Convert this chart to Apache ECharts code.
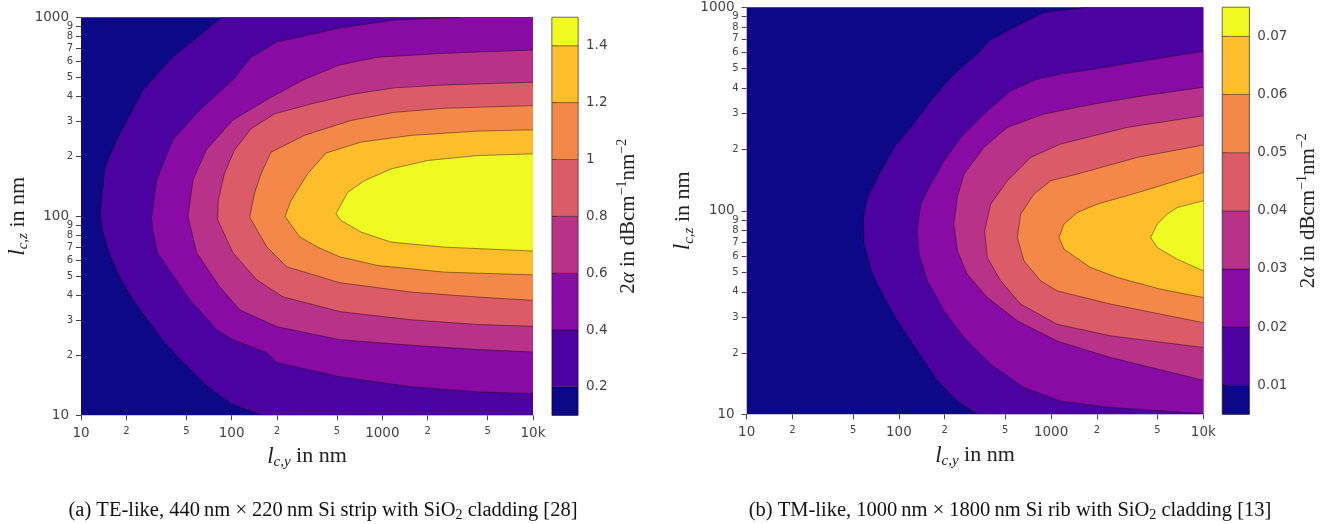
<!DOCTYPE html>
<html>
<head>
<meta charset="utf-8">
<script src="https://cdn.jsdelivr.net/npm/echarts@6/dist/echarts.min.js"></script>
<style>
html,body{margin:0;padding:0;background:#fff}
#chart{width:1332px;height:524px}
</style>
</head>
<body>
<div id="chart"></div>
<script>
// band colours, lowest to highest (both panels)
const bandColors = ['#0d0887', '#4c02a1', '#8a0aa5', '#b83289', '#db5c68', '#f48849', '#febd2a', '#f0f921'];

// log axis ticks in nm
const xTicks = [10, 20, 50, 100, 200, 500, 1000, 2000, 5000, 10000];
const yMajor = [10, 100, 1000];
// minor y ticks split in two sets so neighbouring small labels never collide
const yMinorEven = [20, 40, 60, 80, 200, 400, 600, 800];
const yMinorOdd = [30, 50, 70, 90, 300, 500, 700, 900];
const X_MIN = 10, X_MAX = 10000, Z_MIN = 10, Z_MAX = 1000;

// (a) colourbar levels and ticks
const levelsA = [0.1, 0.2, 0.4, 0.6, 0.8, 1.0, 1.2, 1.4, 1.5];
const cbTicksA = [0.2, 0.4, 0.6, 0.8, 1, 1.2, 1.4];
// (a) contour lines, points [l_cy, l_cz] in nm
const a02 = [[85.8,1000],[40.6,632],[25.7,431],[17.2,242],[14.4,177],[13.7,125],[13.4,101],[13.9,84.9],[15.4,64.8],[18.0,49.5],[21.5,39.3],[27.7,30.0],[35.7,23.3],[46.1,18.9],[65.9,14.4],[99,11.4],[156.6,10]];
const a04 = [[3327,1000],[1201,970],[521,884],[199,752],[134.4,630],[101.5,484],[61.3,342],[40.6,242],[31.8,152.6],[29.4,99.4],[29.9,84.9],[32.3,64.8],[41.6,49.5],[52.6,38.1],[79.5,26.9],[101.5,24.0],[170.8,20.6],[199,18.4],[521,15.6],[1550,13.9],[4294,13.1],[10000,12.85]];
const a06 = [[10000,685],[2579,659],[931,630],[521,576],[297.5,484],[182.4,396],[102,305],[67.9,215.8],[55.4,152.6],[51.3,99.8],[58.6,65.6],[83.2,44.3],[113,33.9],[199,27.9],[521,24.0],[1550,22.5],[4294,21.4],[10000,20.8]];
const a08 = [[10000,472],[2579,457],[1201,442],[652,412],[336,367],[192,327],[134.4,275],[104,214],[89.4,163.5],[81.5,120],[80.8,96.0],[102,65.6],[146.5,48.0],[219,39.4],[521,33.2],[1550,30.2],[4294,28.6],[10000,28.0]];
const a10 = [[10000,360],[2579,349],[1201,333],[619,303],[303.6,255],[182.4,210],[156.6,163.5],[141.4,129.7],[131.7,99],[170.8,70.3],[231.7,55.8],[521,46.4],[1550,41.6],[4294,39.3],[10000,37.8]];
const a12 = [[10000,272],[4294,268],[1550,255],[722,236],[423,208],[319,163.5],[247.6,120],[226,99.8],[282.8,78.9],[372,70.0],[521,62.6],[931,56.6],[2579,52.4],[10000,50.8]];
const a14 = [[10000,206],[4294,202],[2000,190.7],[1141,173],[760,151],[589,132],[493,103],[532,95.3],[722,83.3],[1141,74.2],[2579,70.0],[10000,66.9]];

// (b) colourbar levels and ticks
const levelsB = [0.005, 0.01, 0.02, 0.03, 0.04, 0.05, 0.06, 0.07, 0.075];
const cbTicksB = [0.01, 0.02, 0.03, 0.04, 0.05, 0.06, 0.07];
// (b) contour lines
const b01 = [[1729,1000],[898,945],[516,768],[396.7,691],[327.5,590],[230,470],[161.7,347.5],[119.5,257],[92.9,205],[72.2,145.8],[62.0,116.3],[58.4,92.7],[59.0,68.6],[66.9,48.8],[79.8,37.5],[97.6,28.8],[132.1,20.5],[178.8,14.6],[242,11.6],[327.5,10]];
const b02 = [[10000,607.6],[4074,546.8],[1644,488],[1215,473.6],[811,444],[542,389],[362,298.8],[254.5,229.5],[197.8,176.2],[161.7,135.2],[139,107.8],[132.1,79.8],[135.5,61.2],[153.8,45.3],[197.8,32.2],[267.7,23.8],[400.8,17.6],[663,13.5],[1155,11.6],[2461,10.8],[10000,10.08]];
const b03 = [[10000,404.4],[4074,367.9],[1912,334.6],[898,298.8],[516,257],[362,205],[267.7,151.5],[242,116.3],[230,86],[242,63.6],[281.6,48.8],[381,37.5],[600,28.8],[1098,22.9],[2461,19.0],[10000,14.7]];
const b04 = [[10000,293.2],[3166,257],[1155,212.8],[734,183],[516,140.4],[400.8,107.8],[366,79.8],[381,58.9],[466,45.3],[631,34.8],[1098,27.7],[2461,24.3],[10000,21.3]];
const b05 = [[10000,210.4],[3683,183],[1486,151.5],[993,140.4],[772,120.8],[631,96.3],[600,73.9],[663,56.8],[854,45.3],[1098,40.4],[2461,34.8],[10000,28.2]];
const b06 = [[10000,154.3],[4074,125.4],[2012,107.8],[1486,98.1],[1215,86],[1126,73.9],[1215,64.8],[1818,52.6],[2721,47],[5243,41.2],[10000,37.5]];
const b07 = [[10000,112],[6745,103.8],[5799,96.3],[4984,86],[4506,73.9],[4984,66],[6745,57.8],[10000,50.7]];

const contoursA = [a02, a04, a06, a08, a10, a12, a14];
const contoursB = [b01, b02, b03, b04, b05, b06, b07];

const tickColor = '#444';
const serif = 'Liberation Serif';
const sans = 'DejaVu Sans';

// one filled region + its contour line, drawn once per series
function contourSeries(pts, color, idx) {
  return {
    type: 'custom', xAxisIndex: idx, yAxisIndex: idx, data: pts, silent: true, clip: true,
    renderItem(params, api) {
      if (params.dataIndex !== 0) return null;
      const line = pts.map(p => api.coord(p));
      const first = pts[0], last = pts[pts.length - 1];
      const close = [];
      if (last[1] === Z_MIN) close.push([X_MAX, Z_MIN]);
      if (first[1] === Z_MAX) close.push([X_MAX, Z_MAX]);
      const poly = line.concat(close.map(p => api.coord(p)));
      return {
        type: 'group',
        children: [
          { type: 'polygon', shape: { points: poly }, style: { fill: color } },
          { type: 'polyline', shape: { points: line }, style: { stroke: 'rgba(0,0,0,0.7)', lineWidth: 0.6, fill: null } }
        ]
      };
    }
  };
}

function colorbarSeries(levels, idx) {
  const bands = levels.slice(0, -1).map((lo, i) => [0, lo, levels[i + 1]]);
  return {
    type: 'custom', xAxisIndex: idx, yAxisIndex: idx, data: bands, silent: true,
    encode: { x: 0, y: [1, 2] },
    renderItem(params, api) {
      const a = api.coord([0, api.value(1)]);
      const b = api.coord([1, api.value(2)]);
      return {
        type: 'rect',
        shape: { x: a[0], y: b[1], width: b[0] - a[0], height: a[1] - b[1] },
        style: { fill: bandColors[params.dataIndex], stroke: 'rgba(0,0,0,0.6)', lineWidth: 0.6 }
      };
    }
  };
}

function tickLabel(v) {
  const r = Math.round(v);
  if (r === 10000) return '{maj|10k}';
  const lg = Math.log10(r);
  if (Math.abs(lg - Math.round(lg)) < 1e-6) return '{maj|' + r + '}';
  return '{min|' + String(r)[0] + '}';
}

const xRich = {
  maj: { fontSize: 13.5, color: tickColor, fontFamily: sans },
  min: { fontSize: 10, color: tickColor, fontFamily: sans }
};
const yRich = {
  maj: { fontSize: 13.5, color: tickColor, fontFamily: sans, padding: [0, 4, 0, 0] },
  min: { fontSize: 10, color: tickColor, fontFamily: sans }
};

const titleRich = {
  i: { fontFamily: serif, fontStyle: 'italic', fontSize: 23, color: '#222' },
  s: { fontFamily: serif, fontStyle: 'italic', fontSize: 15, color: '#222', padding: [11, 0, 0, 0] },
  t: { fontFamily: serif, fontSize: 22, color: '#222' }
};

function mainX(grid, sub) {
  return {
    type: 'log', logBase: 10, gridIndex: grid, min: X_MIN, max: X_MAX,
    axisLine: { show: false }, splitLine: { show: false }, minorTick: { show: false },
    axisTick: { show: true, length: 5, customValues: xTicks, lineStyle: { color: tickColor } },
    axisLabel: { customValues: xTicks, margin: 11, formatter: tickLabel, rich: xRich,
      showMinLabel: true, showMaxLabel: true },
    name: '{i|l}{s|c,' + sub + '}{t| in nm}', nameLocation: 'middle', nameGap: 16,
    nameTextStyle: { fontFamily: serif, fontSize: 22, color: '#222', rich: titleRich }
  };
}

// log y axis; the first one per panel carries the title and major labels
function logY(grid, ticks, withName) {
  const axis = {
    // max nudged above 1000 so the 1000 tick survives log rounding
    type: 'log', logBase: 10, gridIndex: grid, position: 'left', offset: 0,
    min: Z_MIN, max: Z_MAX * 1.000001,
    axisLine: { show: false }, splitLine: { show: false }, minorTick: { show: false },
    axisTick: { show: true, length: 5, customValues: ticks, lineStyle: { color: tickColor } },
    axisLabel: { customValues: ticks, margin: 8, formatter: tickLabel, rich: yRich,
      showMinLabel: true, showMaxLabel: true }
  };
  if (withName) {
    Object.assign(axis, {
      name: '{i|l}{s|c,z}{t| in nm}', nameLocation: 'middle', nameRotate: 90, nameGap: 46,
      nameTextStyle: { fontFamily: serif, fontSize: 22, color: '#222', rich: titleRich }
    });
  }
  return axis;
}

function cbX(grid) {
  return { type: 'value', gridIndex: grid, min: 0, max: 1, show: false };
}

function cbY(grid, levels, ticks, gap) {
  return {
    type: 'value', gridIndex: grid, position: 'right', min: levels[0], max: levels[levels.length - 1],
    axisLine: { show: false }, splitLine: { show: false },
    axisTick: { show: true, length: 5, customValues: ticks, lineStyle: { color: tickColor } },
    axisLabel: { customValues: ticks, margin: 8, fontSize: 13.5, color: tickColor, fontFamily: sans,
      formatter: v => String(+v.toFixed(3)) },
    name: '{t|2}{i|α}{t| in dBcm}{sup|−1}{t|nm}{sup|−2}', nameLocation: 'middle', nameRotate: 90, nameGap: gap,
    nameTextStyle: {
      fontFamily: serif, fontSize: 21, color: '#222',
      rich: {
        t: { fontFamily: serif, fontSize: 21, color: '#222' },
        i: { fontFamily: serif, fontStyle: 'italic', fontSize: 21, color: '#222' },
        sup: { fontFamily: serif, fontSize: 14, color: '#222', padding: [0, 0, 12, 0] }
      }
    }
  };
}

const chart = echarts.init(document.getElementById('chart'));
chart.setOption({
  animation: false,
  backgroundColor: '#fff',
  grid: [
    { left: 81, top: 17.3, width: 452, height: 398, show: true, backgroundColor: bandColors[0], borderWidth: 0, outerBoundsMode: 'none' },
    { left: 552, top: 17.3, width: 26, height: 398, show: true, borderColor: '#777', borderWidth: 1, outerBoundsMode: 'none' },
    { left: 746.7, top: 7.3, width: 456.6, height: 407, show: true, backgroundColor: bandColors[0], borderWidth: 0, outerBoundsMode: 'none' },
    { left: 1222.3, top: 7.3, width: 27, height: 407, show: true, borderColor: '#777', borderWidth: 1, outerBoundsMode: 'none' }
  ],
  xAxis: [mainX(0, 'y'), cbX(1), mainX(2, 'y'), cbX(3)],
  yAxis: [
    logY(0, yMajor, true), cbY(1, levelsA, cbTicksA, 37), logY(2, yMajor, true), cbY(3, levelsB, cbTicksB, 46),
    logY(0, yMinorEven, false), logY(0, yMinorOdd, false), logY(2, yMinorEven, false), logY(2, yMinorOdd, false)
  ],
  series: [
    ...contoursA.map((c, i) => contourSeries(c, bandColors[i + 1], 0)),
    colorbarSeries(levelsA, 1),
    ...contoursB.map((c, i) => contourSeries(c, bandColors[i + 1], 2)),
    colorbarSeries(levelsB, 3)
  ],
  graphic: [
    {
      type: 'text', x: 323, y: 511,
      style: {
        text: '(a) TE-like, 440\u2009nm × 220\u2009nm Si strip with SiO{s|2} cladding [28]',
        font: '20.5px "Liberation Serif"', fill: '#111', align: 'center', verticalAlign: 'middle',
        rich: { s: { fontFamily: serif, fontSize: 14, fill: '#111', padding: [9, 0, 0, 0] } }
      }
    },
    {
      type: 'text', x: 1010, y: 511,
      style: {
        text: '(b) TM-like, 1000\u2009nm × 1800\u2009nm Si rib with SiO{s|2} cladding [13]',
        font: '20.5px "Liberation Serif"', fill: '#111', align: 'center', verticalAlign: 'middle',
        rich: { s: { fontFamily: serif, fontSize: 14, fill: '#111', padding: [9, 0, 0, 0] } }
      }
    }
  ]
});
</script>
</body>
</html>
